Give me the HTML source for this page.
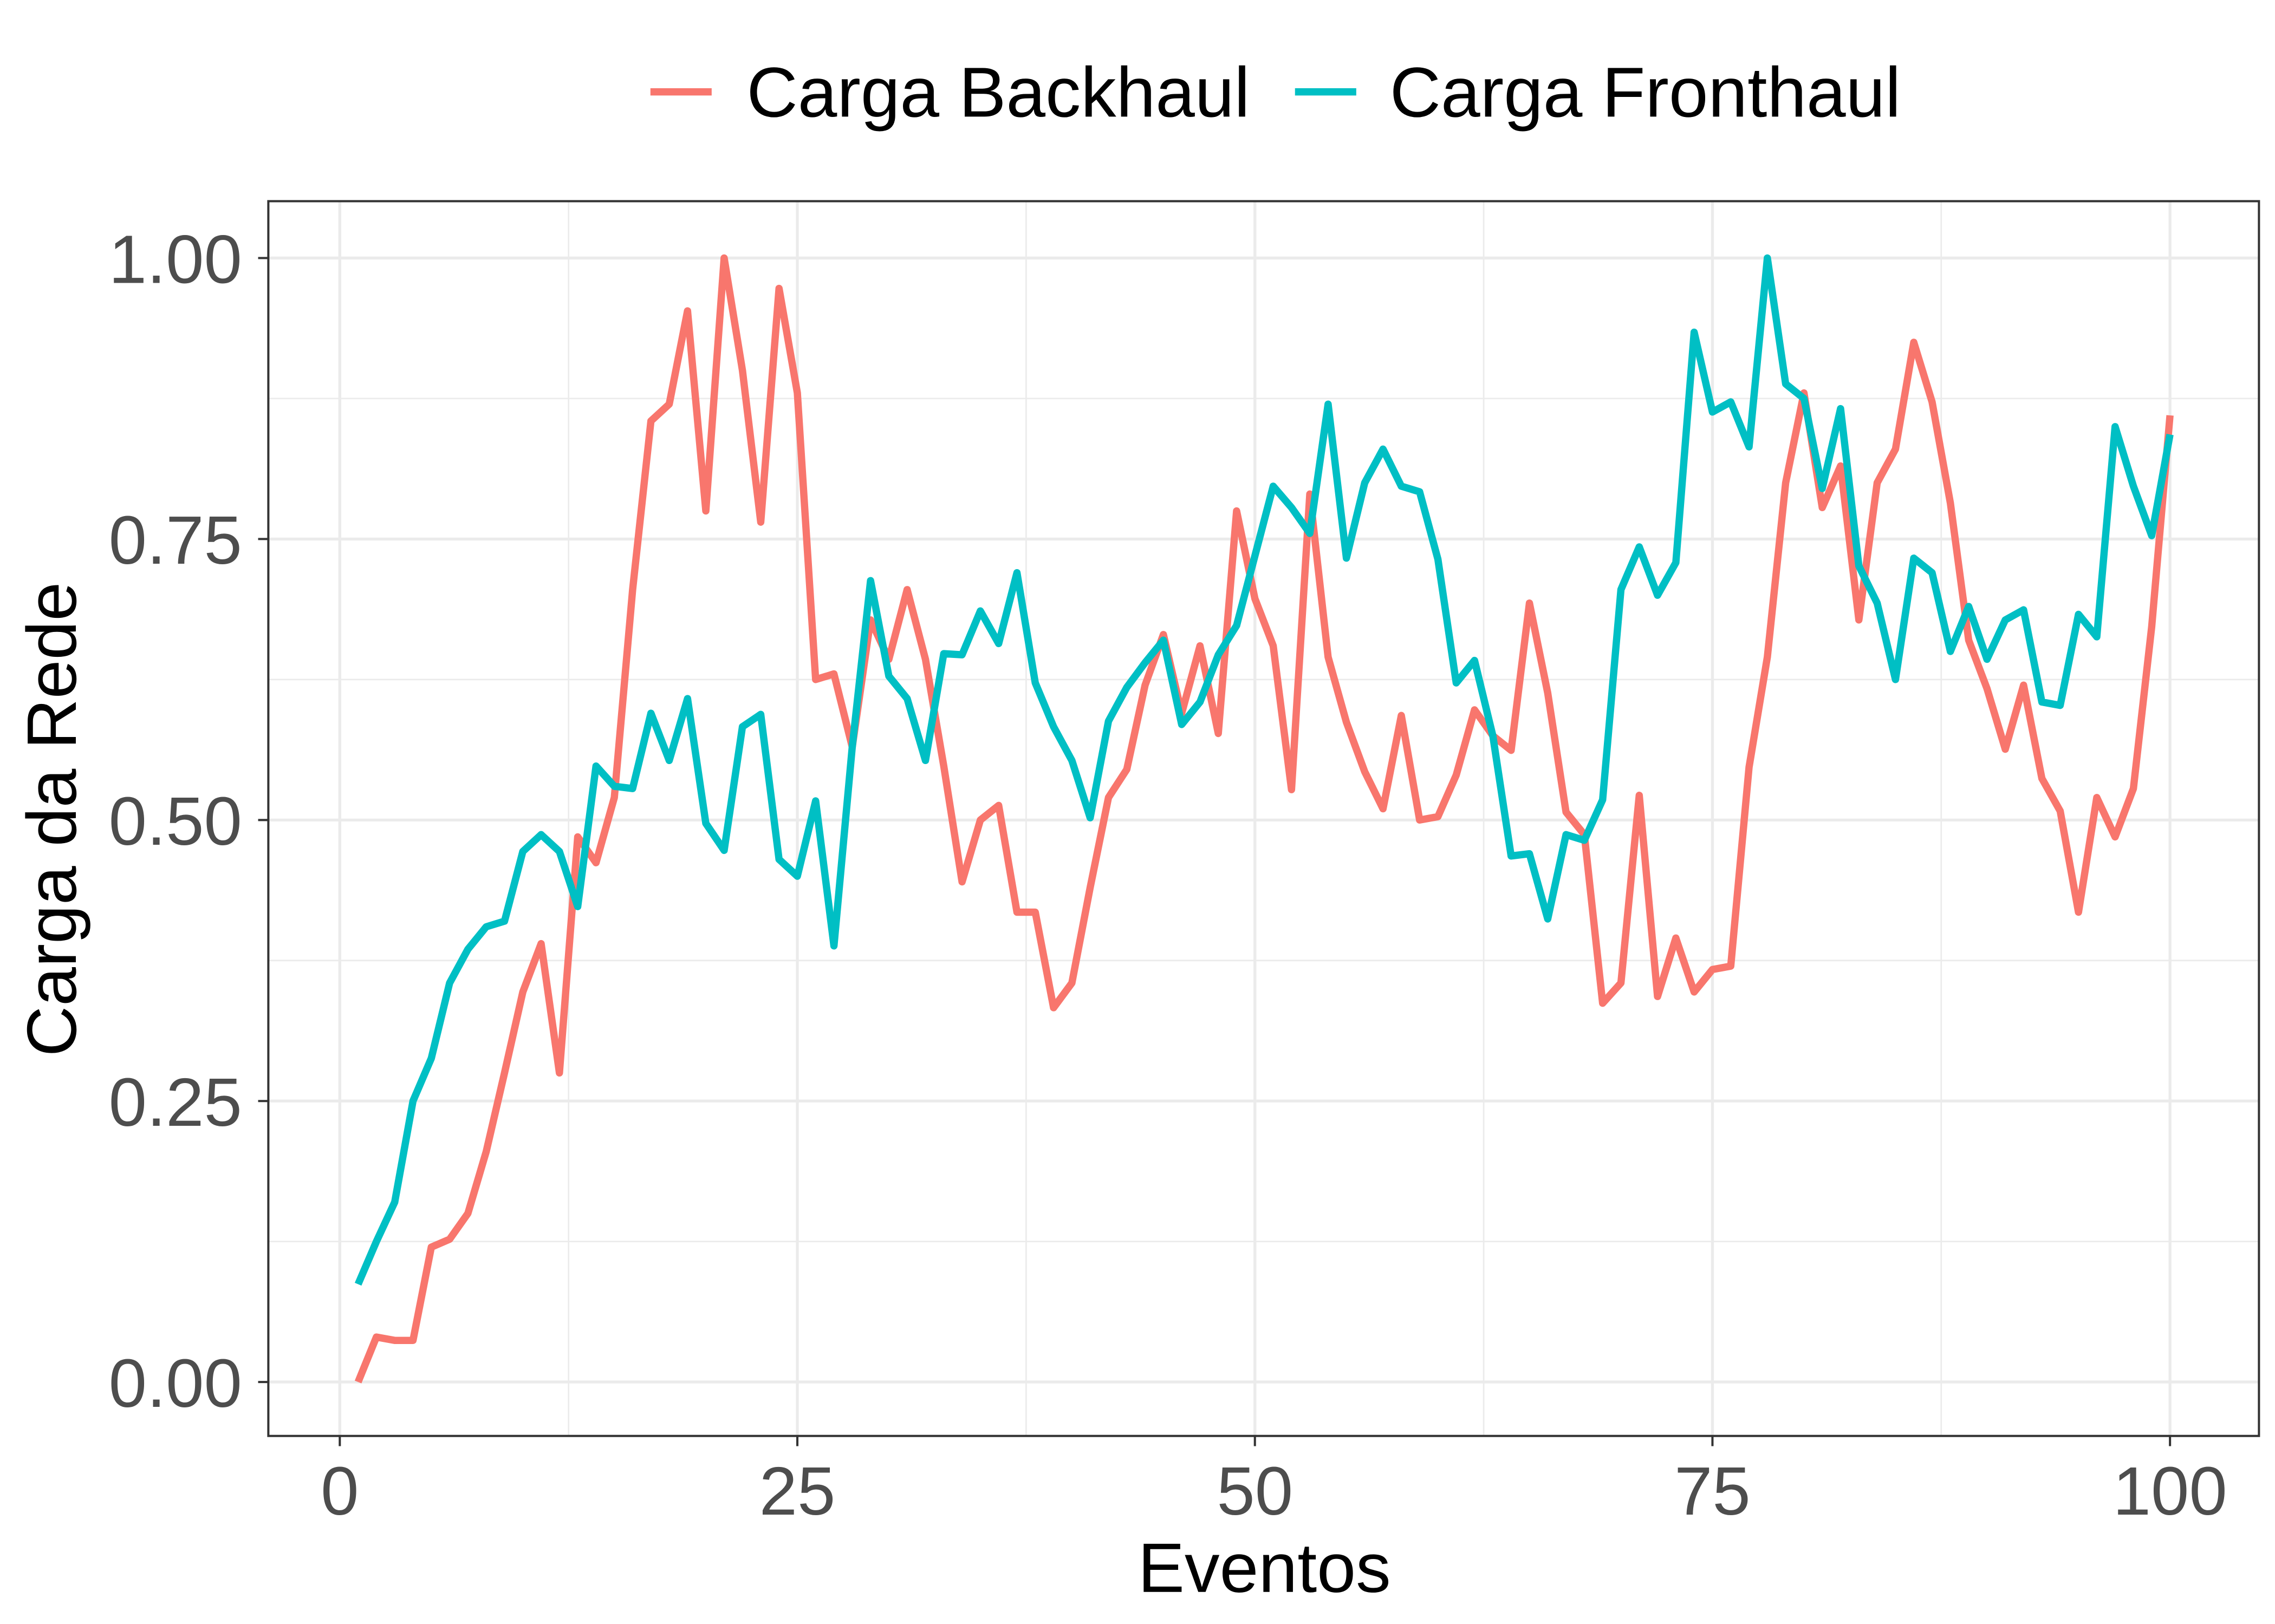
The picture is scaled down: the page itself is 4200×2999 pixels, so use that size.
<!DOCTYPE html>
<html><head><meta charset="utf-8"><style>
html,body{margin:0;padding:0;background:#fff;}
svg{display:block;font-family:"Liberation Sans",Arial,sans-serif;}
</style></head><body>
<svg id="chart" width="4200" height="2999" viewBox="0 0 1560 1114" preserveAspectRatio="none" xmlns="http://www.w3.org/2000/svg">
<rect x="0" y="0" width="1560" height="1114" fill="#fff"/>
<g id="grid"></g>
<g id="series"></g>
<rect x="184" y="138" width="1365" height="847" fill="none" stroke="#333" stroke-width="1.5"/>
<g id="ticks"></g>
<text x="867" y="1092" font-size="48" text-anchor="middle" fill="#000">Eventos</text>
<text transform="translate(52,562) rotate(-90)" font-size="48" text-anchor="middle" fill="#000">Carga da Rede</text>
<g>
<g><line x1="446" y1="63" x2="488" y2="63" stroke="#F8766D" stroke-width="5"/><text x="512" y="80" font-size="48.5" fill="#000">Carga Backhaul</text></g>
<g><line x1="888" y1="63" x2="930" y2="63" stroke="#00BFC4" stroke-width="5"/><text x="953" y="80" font-size="48.5" fill="#000">Carga Fronthaul</text></g>
</g>
</svg>
<script>
const backhaul = [0.00,0.04,0.037,0.037,0.12,0.127,0.15,0.205,0.275,0.347,0.39,0.275,0.485,0.462,0.52,0.705,0.855,0.87,0.953,0.775,1.00,0.90,0.765,0.973,0.88,0.625,0.63,0.565,0.678,0.643,0.705,0.643,0.548,0.445,0.50,0.513,0.418,0.418,0.333,0.355,0.44,0.52,0.545,0.62,0.665,0.595,0.655,0.577,0.775,0.697,0.655,0.527,0.79,0.645,0.587,0.543,0.51,0.593,0.50,0.503,0.54,0.598,0.575,0.562,0.693,0.613,0.507,0.487,0.337,0.355,0.522,0.343,0.395,0.347,0.367,0.37,0.547,0.645,0.80,0.88,0.778,0.815,0.678,0.80,0.83,0.925,0.872,0.782,0.66,0.617,0.563,0.62,0.537,0.508,0.418,0.52,0.485,0.528,0.672,0.86];
const fronthaul = [0.087,0.125,0.16,0.25,0.288,0.355,0.385,0.405,0.41,0.472,0.487,0.472,0.423,0.548,0.53,0.528,0.595,0.553,0.608,0.497,0.473,0.583,0.594,0.465,0.45,0.517,0.388,0.565,0.713,0.628,0.608,0.553,0.648,0.647,0.686,0.657,0.72,0.622,0.583,0.553,0.502,0.588,0.618,0.64,0.66,0.585,0.605,0.647,0.673,0.735,0.797,0.778,0.755,0.87,0.733,0.80,0.83,0.797,0.792,0.732,0.622,0.642,0.575,0.468,0.47,0.412,0.487,0.482,0.518,0.705,0.743,0.70,0.729,0.934,0.863,0.872,0.832,1.00,0.888,0.875,0.795,0.866,0.726,0.693,0.625,0.733,0.72,0.65,0.69,0.643,0.678,0.687,0.605,0.602,0.683,0.663,0.85,0.797,0.753,0.843];
const xTicks = [0,25,50,75,100];
const xTickLabels = ["0","25","50","75","100"];
const yTicks = [0,0.25,0.5,0.75,1];
const yTickLabels = ["0.00","0.25","0.50","0.75","1.00"];

const NS="http://www.w3.org/2000/svg";
function sx(v){return 233+(v/100)*(1488-233);}
function sy(v){return 948-v*(948-177);}
function mk(tag,attrs,parent){const e=document.createElementNS(NS,tag);for(const k in attrs)e.setAttribute(k,attrs[k]);parent.appendChild(e);return e;}
const grid=document.getElementById('grid'), ticks=document.getElementById('ticks'), series=document.getElementById('series');
for(let i=0;i<xTicks.length-1;i++){const m=(xTicks[i]+xTicks[i+1])/2;const l=mk('line',{x1:sx(m),x2:sx(m),y1:138,y2:985,stroke:'#EBEBEB','stroke-width':1},grid);

}
for(let i=0;i<yTicks.length-1;i++){const m=(yTicks[i]+yTicks[i+1])/2;const l=mk('line',{x1:184,x2:1549,y1:sy(m),y2:sy(m),stroke:'#EBEBEB','stroke-width':1},grid);

}
xTicks.forEach((v,i)=>{const l=mk('line',{x1:sx(v),x2:sx(v),y1:138,y2:985,stroke:'#EBEBEB','stroke-width':2},grid);


const t=mk('line',{x1:sx(v),x2:sx(v),y1:985,y2:992,stroke:'#333','stroke-width':1.5},ticks);


const tx=mk('text',{x:sx(v),y:1039,'font-size':47,'text-anchor':'middle',fill:'#4D4D4D'},ticks);tx.textContent=xTickLabels[i];

});
yTicks.forEach((v,i)=>{const l=mk('line',{x1:184,x2:1549,y1:sy(v),y2:sy(v),stroke:'#EBEBEB','stroke-width':2},grid);


const t=mk('line',{x1:177,x2:184,y1:sy(v),y2:sy(v),stroke:'#333','stroke-width':1.5},ticks);


const tx=mk('text',{x:166,y:sy(v)+17,'font-size':47,'text-anchor':'end',fill:'#4D4D4D'},ticks);tx.textContent=yTickLabels[i];

});
function line(data,color,name){const d=data.map((v,i)=>(i?'L':'M')+sx(i+1).toFixed(2)+','+sy(v).toFixed(2)).join('');
const p=mk('path',{d:d,fill:'none',stroke:color,'stroke-width':5,'stroke-linejoin':'round'},series);

}
line(backhaul,'#F8766D','backhaul-line');
line(fronthaul,'#00BFC4','fronthaul-line');
</script>
</body></html>
